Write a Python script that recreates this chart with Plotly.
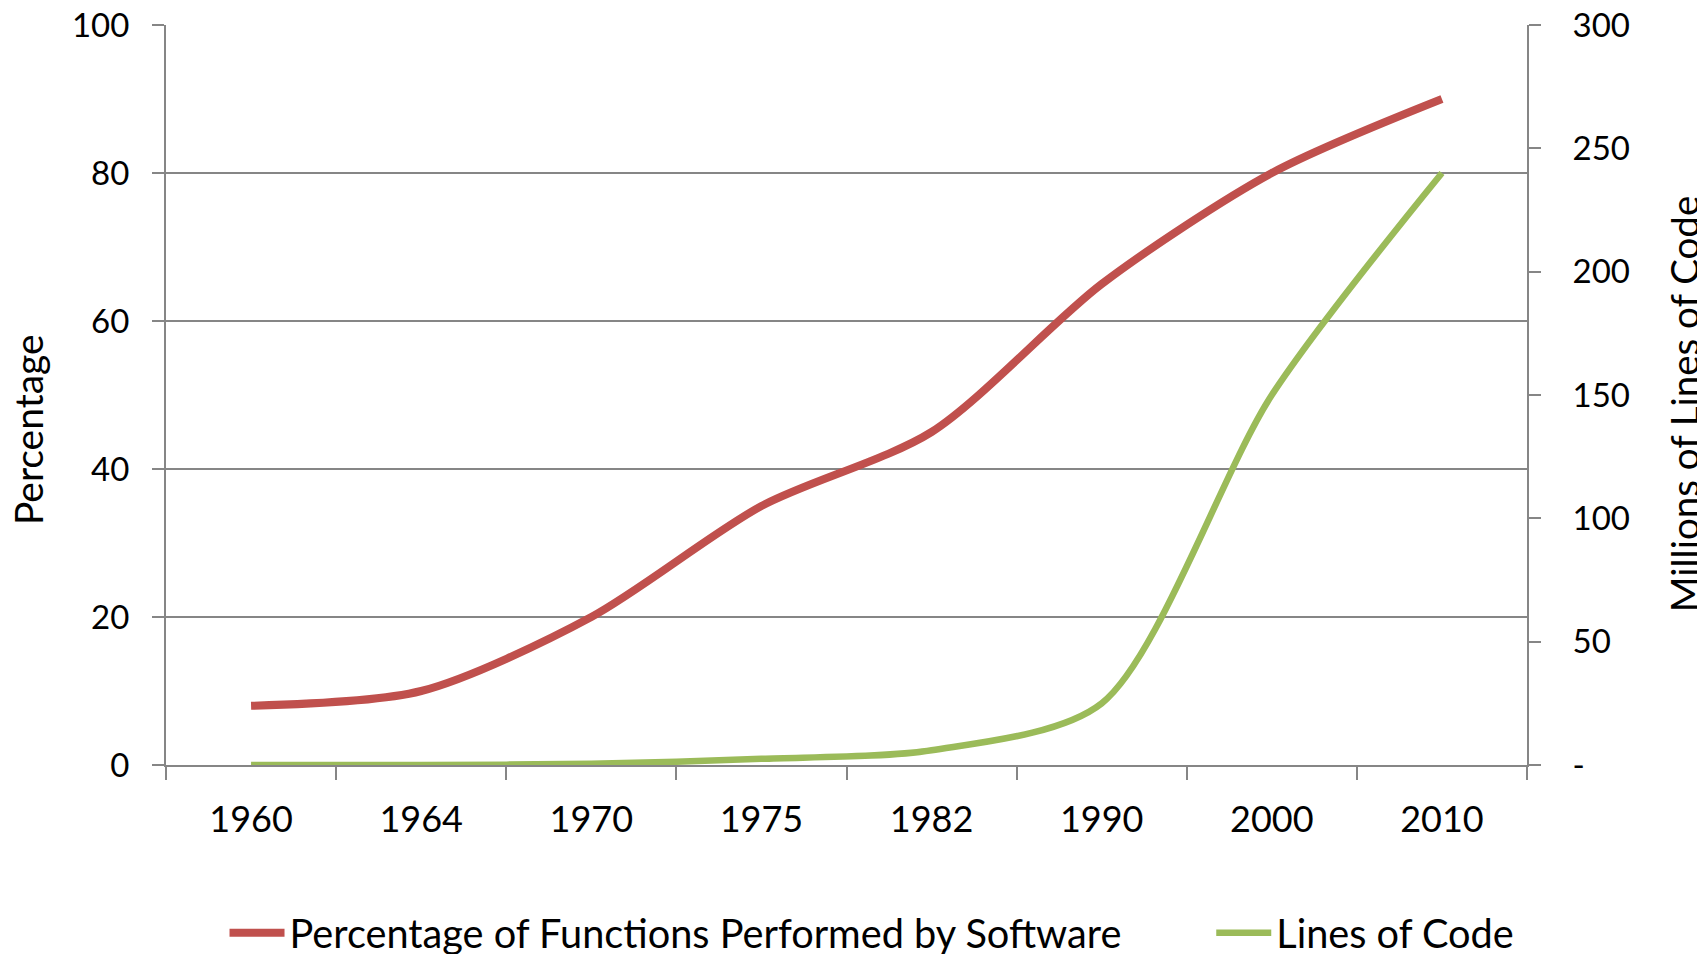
import plotly.graph_objects as go

years = ["1960", "1964", "1970", "1975", "1982", "1990", "2000", "2010"]
pct_software = [8, 10, 20, 35, 45, 65, 80, 90]
loc_millions = [0, 0, 0.5, 2.5, 6, 25, 150, 240]
left_ticks = [0, 20, 40, 60, 80, 100]
right_ticks = [0, 50, 100, 150, 200, 250, 300]
right_tick_text = ["-", "50", "100", "150", "200", "250", "300"]

GRAY = "#868686"
FONT = "Lato"

fig = go.Figure()
fig.add_trace(go.Scatter(
    x=years, y=pct_software, name="Percentage of Functions Performed by Software",
    mode="lines", line=dict(color="#C0504D", width=8, shape="spline", smoothing=0.8),
    legend="legend"))
fig.add_trace(go.Scatter(
    x=years, y=loc_millions, name="Lines of Code", yaxis="y2",
    mode="lines", line=dict(color="#9BBB59", width=6.5, shape="spline", smoothing=0.8),
    legend="legend2"))

legend_common = dict(orientation="h", yanchor="middle", y=-0.227, xanchor="left",
                     font=dict(size=39.7), bgcolor="rgba(0,0,0,0)", itemwidth=55)

fig.update_layout(
    width=1705, height=954,
    margin=dict(l=158, r=186, t=17, b=197, autoexpand=False),
    paper_bgcolor="white", plot_bgcolor="white",
    font=dict(family=FONT, color="black"),
    xaxis=dict(
        type="category", range=[-0.5, 7.5], tickson="boundaries", automargin=False,
        ticks="outside", ticklen=13, tickwidth=2, tickcolor=GRAY,
        showline=True, linecolor=GRAY, linewidth=2, showgrid=False,
        tickfont=dict(size=36), ticklabelstandoff=22, ticklabeloverflow="allow"),
    yaxis=dict(
        range=[0, 100], tickvals=left_ticks, showgrid=True, gridcolor=GRAY, gridwidth=2,
        ticks="outside", ticklen=12, tickwidth=2, tickcolor=GRAY, automargin=False,
        showline=True, linecolor=GRAY, linewidth=2, zeroline=False,
        tickfont=dict(size=33), ticklabelstandoff=16, ticklabeloverflow="allow"),
    yaxis2=dict(
        overlaying="y", side="right", range=[0, 300], tickvals=right_ticks,
        ticktext=right_tick_text, showgrid=False, zeroline=False, automargin=False,
        ticks="outside", ticklen=12, tickwidth=2, tickcolor=GRAY,
        showline=True, linecolor=GRAY, linewidth=2,
        tickfont=dict(size=33), ticklabelstandoff=25, ticklabeloverflow="allow"),
    legend=dict(x=0.043, **legend_common),
    legend2=dict(x=0.768, **legend_common),
    annotations=[
        dict(text="Percentage", xref="paper", yref="paper", x=-0.1010, y=0.4534,
             xanchor="center", yanchor="middle", textangle=-90, showarrow=False,
             font=dict(size=39)),
        dict(text="Millions of Lines of Code", xref="paper", yref="paper", x=1.1155, y=0.4878,
             xanchor="center", yanchor="middle", textangle=-90, showarrow=False,
             font=dict(size=38.5)),
    ],
    showlegend=True,
)

fig.write_html("out.html")
